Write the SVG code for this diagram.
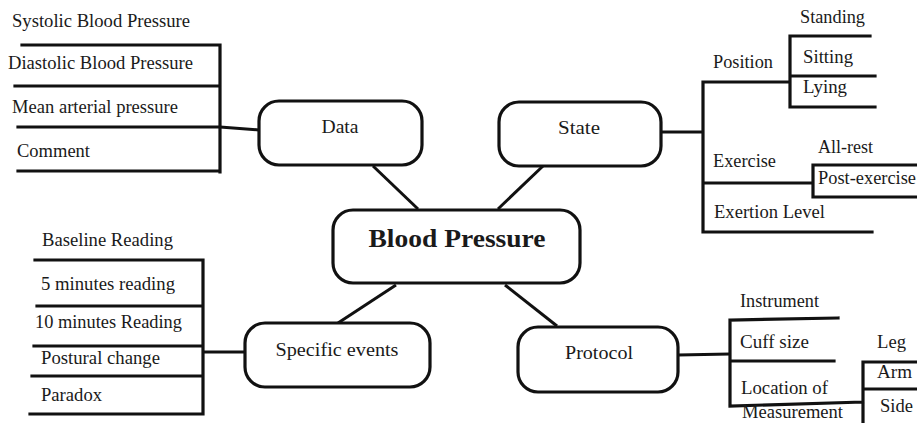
<svg xmlns="http://www.w3.org/2000/svg" width="917" height="423" viewBox="0 0 917 423" font-family="Liberation Serif, Times New Roman, serif">
<style>
.box{fill:#fff;stroke:#111;stroke-width:3.2}
.ln{stroke:#111;stroke-width:3.2;fill:none;stroke-linecap:square}
.c{stroke:#111;stroke-width:3;fill:none}
.t{font-size:18px;fill:#1a1a1a}
.m{text-anchor:middle}
.b{font-weight:bold;font-size:25px}
</style>
<rect width="917" height="423" fill="#fff"/>
<g id="connectors">
<line class="c" x1="373" y1="166" x2="418" y2="209"/>
<line class="c" x1="543" y1="166" x2="498" y2="209"/>
<line class="c" x1="396" y1="285" x2="338" y2="323"/>
<line class="c" x1="505" y1="285" x2="557" y2="326"/>
<line class="c" x1="220" y1="127" x2="259" y2="130"/>
<line class="c" x1="661" y1="132" x2="703" y2="132"/>
<line class="c" x1="203" y1="352" x2="245" y2="352"/>
<line class="c" x1="678" y1="355" x2="730" y2="354"/>
</g>
<g id="data-tree" font-family="Liberation Serif">
<path class="ln" d="M220 45V172M22 45H220M15 86H220M18 127H220M18 171H220"/>
<text class="t" x="12" y="27" textLength="178" lengthAdjust="spacingAndGlyphs">Systolic Blood Pressure</text>
<text class="t" x="8" y="69" textLength="185" lengthAdjust="spacingAndGlyphs">Diastolic Blood Pressure</text>
<text class="t" x="12" y="113" textLength="166" lengthAdjust="spacingAndGlyphs">Mean arterial pressure</text>
<text class="t" x="17" y="157" textLength="73" lengthAdjust="spacingAndGlyphs">Comment</text>
</g>
<g id="state-tree" font-family="Liberation Serif">
<path class="ln" d="M703 82V232M703 82H790M790 36V107M790 36H870M790 76H875M790 107H875M703 183H813M813 165V197M813 165H917M813 197H917M703 232H872"/>
<text class="t" x="800" y="23" textLength="65" lengthAdjust="spacingAndGlyphs">Standing</text>
<text class="t" x="713" y="68" textLength="60" lengthAdjust="spacingAndGlyphs">Position</text>
<text class="t" x="803" y="63" textLength="50" lengthAdjust="spacingAndGlyphs">Sitting</text>
<text class="t" x="803" y="93" textLength="44" lengthAdjust="spacingAndGlyphs">Lying</text>
<text class="t" x="818" y="153" textLength="55" lengthAdjust="spacingAndGlyphs">All-rest</text>
<text class="t" x="713" y="167" textLength="63" lengthAdjust="spacingAndGlyphs">Exercise</text>
<text class="t" x="818" y="184" textLength="98" lengthAdjust="spacingAndGlyphs">Post-exercise</text>
<text class="t" x="714" y="218" textLength="111" lengthAdjust="spacingAndGlyphs">Exertion Level</text>
</g>
<g id="events-tree" font-family="Liberation Serif">
<path class="ln" d="M203 260V413M35 260H203M37 306H203M34 346H203M32 376H203M30 414H203"/>
<text class="t" x="42" y="246" textLength="131" lengthAdjust="spacingAndGlyphs">Baseline Reading</text>
<text class="t" x="41" y="290" textLength="134" lengthAdjust="spacingAndGlyphs">5 minutes reading</text>
<text class="t" x="35" y="328" textLength="147" lengthAdjust="spacingAndGlyphs">10 minutes Reading</text>
<text class="t" x="41" y="364" textLength="119" lengthAdjust="spacingAndGlyphs">Postural change</text>
<text class="t" x="41" y="401" textLength="61" lengthAdjust="spacingAndGlyphs">Paradox</text>
</g>
<g id="protocol-tree" font-family="Liberation Serif">
<path class="ln" d="M730 320V406M730 320L838 318M730 361H834M730 406L863 402M863 362V423M863 362H917M863 389H917"/>
<text class="t" x="740" y="307" textLength="79" lengthAdjust="spacingAndGlyphs">Instrument</text>
<text class="t" x="740" y="348" textLength="69" lengthAdjust="spacingAndGlyphs">Cuff size</text>
<text class="t" x="877" y="348" textLength="29" lengthAdjust="spacingAndGlyphs">Leg</text>
<text class="t" x="877" y="378" textLength="35" lengthAdjust="spacingAndGlyphs">Arm</text>
<text class="t" x="741" y="394" textLength="87" lengthAdjust="spacingAndGlyphs">Location of</text>
<text class="t" x="742" y="418" textLength="101" lengthAdjust="spacingAndGlyphs">Measurement</text>
<text class="t" x="880" y="412" textLength="33" lengthAdjust="spacingAndGlyphs">Side</text>
</g>
<g id="node-data" font-family="Liberation Serif">
<rect class="box" x="259" y="101" width="163" height="64" rx="20"/>
<text class="t m" x="340" y="133" textLength="37" lengthAdjust="spacingAndGlyphs">Data</text>
</g>
<g id="node-state" font-family="Liberation Serif">
<rect class="box" x="499" y="102" width="162" height="64" rx="20"/>
<text class="t m" x="579" y="134" textLength="42" lengthAdjust="spacingAndGlyphs">State</text>
</g>
<g id="node-bp" font-family="Liberation Serif">
<rect class="box" x="333" y="210" width="247" height="73" rx="20"/>
<text class="t m b" x="457" y="247" textLength="177" lengthAdjust="spacingAndGlyphs">Blood Pressure</text>
</g>
<g id="node-events" font-family="Liberation Serif">
<rect class="box" x="245" y="323" width="185" height="64" rx="20"/>
<text class="t m" x="337" y="356" textLength="123" lengthAdjust="spacingAndGlyphs">Specific events</text>
</g>
<g id="node-protocol" font-family="Liberation Serif">
<rect class="box" x="518" y="327" width="160" height="65" rx="20"/>
<text class="t m" x="599" y="359" textLength="68" lengthAdjust="spacingAndGlyphs">Protocol</text>
</g>
</svg>
